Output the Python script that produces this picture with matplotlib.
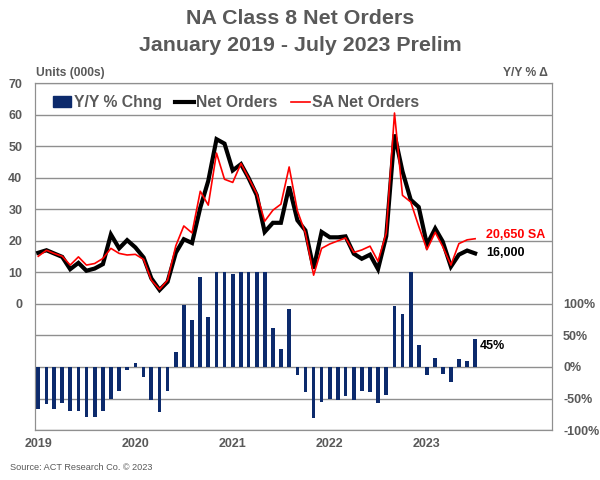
import matplotlib
matplotlib.use("Agg")
import matplotlib.pyplot as plt
import matplotlib.dates as mdates
from matplotlib.patches import Patch
from matplotlib.lines import Line2D
import numpy as np
import pandas as pd

# monthly data, Jan 2019 - Jul 2023 (units in 000s, y/y in %)
months = pd.date_range("2019-01-01", "2023-07-01", freq="MS")

net_orders = [16.2, 17.0, 16.0, 14.9, 11.0, 13.0, 10.5, 11.2, 12.6, 22.0, 17.6, 20.2,
              17.9, 14.7, 8.1, 4.4, 7.0, 16.2, 20.5, 19.3, 30.5, 39.0, 52.2, 50.8,
              42.3, 44.3, 40.0, 34.5, 22.8, 25.7, 25.7, 37.2, 26.5, 23.3, 11.2, 22.8,
              21.1, 21.1, 21.4, 15.9, 14.3, 15.6, 11.0, 21.5, 53.7, 42.0, 33.0, 30.7,
              18.8, 23.9, 19.8, 11.8, 15.6, 16.9, 16.0]

sa_net_orders = [15.1, 17.0, 16.0, 15.1, 12.3, 14.9, 12.3, 12.8, 14.4, 17.6, 16.0, 15.5,
                 15.7, 14.1, 7.5, 4.6, 7.5, 18.4, 24.7, 22.5, 35.7, 31.3, 47.8, 39.5,
                 38.5, 44.5, 40.0, 35.0, 26.2, 29.7, 31.6, 43.4, 29.5, 22.5, 9.1, 17.6,
                 19.0, 20.0, 20.9, 16.3, 17.1, 18.3, 13.5, 22.5, 60.5, 34.4, 32.3, 24.6,
                 17.2, 22.7, 18.2, 12.3, 19.1, 20.3, 20.65]

# y/y % change (bars above 150% are cut off in the original)
yy_chng = [-67, -58, -66, -57, -69, -69, -80, -79, -70, -50, -38, -5,
           7, -16, -52, -71, -38, 24, 99, 75, 143, 80, 150, 150,
           147, 150, 150, 150, 150, 61, 28, 92, -12, -40, -81, -55,
           -50, -52, -46, -53, -38, -40, -57, -44, 97, 84, 150, 35,
           -12, 14, -11, -24, 12, 9, 45]

year_ticks = pd.date_range("2019-01-01", "2023-01-01", freq="YS")
left_ticks = [0, 10, 20, 30, 40, 50, 60, 70]
right_ticks = [-100, -50, 0, 50, 100]

txt = "#595959"
navy = "#0c2a6c"
gridc = "#8f8f8f"

plt.rcParams["font.family"] = ["Liberation Sans", "DejaVu Sans"]
plt.rcParams["font.weight"] = "bold"

fig = plt.figure(figsize=(6, 4.8), dpi=100)
ax = fig.add_axes([0.058, 0.104, 0.862, 0.723])
ax2 = ax.twinx()

# bars on the right scale, behind the lines
ax2.bar(months, yy_chng, width=14, color=navy, zorder=3)
ax2.set_ylim(-100, 450)
ax2.set_yticks(np.arange(-100, 451, 50))
ax2.set_yticklabels([f"{t}%" if t in right_ticks else "" for t in np.arange(-100, 451, 50)])
ax2.grid(axis="y", color=gridc, lw=1, zorder=0)
ax2.set_axisbelow(True)

ax.plot(months, net_orders, color="black", lw=3.0, solid_joinstyle="miter", zorder=4)
ax.plot(months, sa_net_orders, color="#ff0000", lw=1.2, zorder=5)
ax.set_ylim(-40, 70)
ax.set_yticks(np.arange(-40, 71, 10))
ax.set_yticklabels([str(t) if t in left_ticks else "" for t in np.arange(-40, 71, 10)])
ax.set_xlim(pd.Timestamp("2018-12-19"), pd.Timestamp("2024-04-15"))
ax.set_xticks(year_ticks)
ax.xaxis.set_major_formatter(mdates.DateFormatter("%Y"))

ax.set_zorder(ax2.get_zorder() + 1)
ax.patch.set_visible(False)

for a in (ax, ax2):
    a.tick_params(length=0, labelsize=9, labelcolor=txt)
    for s in a.spines.values():
        s.set_color(gridc)
ax.tick_params(axis="y", pad=9)
ax2.tick_params(axis="y", pad=8)
ax.tick_params(axis="x", pad=6)

# end labels
ax.annotate("20,650 SA", xy=(months[-1], sa_net_orders[-1]), xytext=(8, 3),
            textcoords="offset points", va="center", ha="left",
            color="#ff0000", fontsize=9, fontweight="bold")
ax.annotate("16,000", xy=(months[-1], net_orders[-1]), xytext=(8, 0),
            textcoords="offset points", va="center", ha="left",
            color="black", fontsize=9, fontweight="bold")
ax2.annotate("45%", xy=(months[-1], yy_chng[-1]), xytext=(3, -5),
             textcoords="offset points", va="center", ha="left",
             color="black", fontsize=9, fontweight="bold")

handles = [Patch(color=navy),
           Line2D([], [], color="black", lw=3.0),
           Line2D([], [], color="#ff0000", lw=1.2)]
leg = ax.legend(handles, ["Y/Y % Chng", "Net Orders", "SA Net Orders"],
                loc="upper left", bbox_to_anchor=(0.007, 1.005), ncol=3,
                frameon=False, fontsize=11.3, handlelength=1.2,
                handletextpad=0.15, columnspacing=0.85)
for t in leg.get_texts():
    t.set_color(txt)

fig.text(0.5, 0.962, "NA Class 8 Net Orders", ha="center", va="center",
         fontsize=15.4, color=txt, fontweight="bold")
fig.text(0.5, 0.905, "January 2019 - July 2023 Prelim", ha="center", va="center",
         fontsize=15.4, color=txt, fontweight="bold")
fig.text(0.06, 0.848, "Units (000s)", ha="left", va="center", fontsize=8.7, color=txt)
fig.text(0.913, 0.848, "Y/Y % \u0394", ha="right", va="center", fontsize=8.7, color=txt)
fig.text(0.017, 0.027, "Source: ACT Research Co. \u00a9 2023", ha="left", va="center",
         fontsize=6.6, color=txt, fontweight="normal")

fig.savefig("out.png", dpi=100)
